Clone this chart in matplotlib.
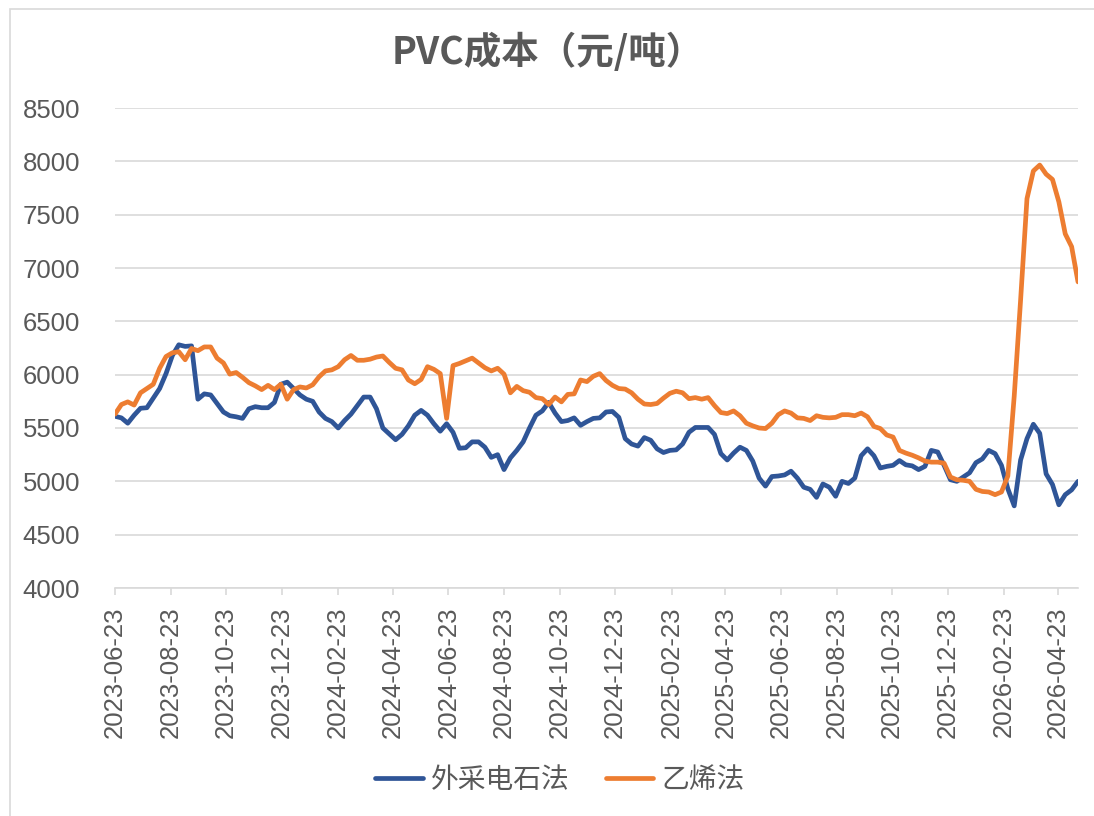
import matplotlib
matplotlib.use("Agg")
import matplotlib.pyplot as plt
import matplotlib.dates as mdates
from matplotlib.patches import Rectangle
import pandas as pd

plt.rcParams['font.family'] = ['Liberation Sans', 'Noto Sans CJK SC', 'DejaVu Sans']

# ---------------- data ----------------
title = "PVC成本（元/吨）"
series_names = ["外采电石法", "乙烯法"]
start_date = "2023-06-23"
n_weeks = 152
dates = pd.date_range(start=start_date, periods=n_weeks, freq="7D")

carbide = [
    5610, 5595, 5545, 5620, 5685, 5690, 5780, 5870, 6010, 6180,
    6280, 6265, 6270, 5770, 5820, 5810, 5730, 5650, 5615, 5605,
    5590, 5680, 5700, 5690, 5690, 5740, 5910, 5930, 5870, 5810,
    5770, 5750, 5650, 5590, 5560, 5500, 5570, 5630, 5710, 5790,
    5790, 5680, 5500, 5445, 5390, 5440, 5520, 5620, 5665, 5620,
    5540, 5470, 5540, 5460, 5310, 5315, 5370, 5370, 5320, 5225,
    5250, 5110, 5220, 5290, 5370, 5500, 5620, 5660, 5740, 5640,
    5560, 5570, 5595, 5525, 5560, 5590, 5595, 5650, 5655, 5600,
    5400, 5350, 5330, 5410, 5385, 5305, 5270, 5290, 5295, 5350,
    5460, 5505, 5505, 5505, 5440, 5260, 5200, 5265, 5320, 5290,
    5190, 5030, 4955, 5045, 5050, 5060, 5095, 5030, 4945, 4925,
    4850, 4975, 4945, 4860, 5000, 4980, 5030, 5240, 5305, 5240,
    5125, 5140, 5150, 5195, 5155, 5145, 5110, 5140, 5290, 5275,
    5150, 5015, 5000, 5040, 5080, 5175, 5210, 5290, 5260, 5150,
    4930, 4770, 5200, 5400, 5535, 5450, 5070, 4970, 4780, 4875,
    4920, 5000,
]

ethylene = [
    5630, 5720, 5745, 5715, 5830, 5870, 5910, 6060, 6170, 6205,
    6215, 6140, 6245, 6225, 6260, 6260, 6155, 6110, 6005, 6020,
    5975, 5925, 5895, 5860, 5900, 5860, 5910, 5770, 5860, 5885,
    5875, 5905, 5980, 6035, 6045, 6075, 6140, 6180, 6135, 6135,
    6145, 6165, 6175, 6115, 6060, 6045, 5950, 5915, 5955, 6075,
    6050, 6010, 5590, 6085, 6105, 6130, 6155, 6110, 6065, 6035,
    6060, 6005, 5830, 5890, 5850, 5835, 5785, 5775, 5720, 5790,
    5745, 5815, 5820, 5950, 5935, 5985, 6010, 5945, 5900, 5870,
    5865, 5830, 5770, 5725, 5720, 5730, 5780, 5825, 5845, 5830,
    5775, 5785, 5770, 5785, 5710, 5645, 5635, 5660, 5615, 5545,
    5520, 5500, 5495, 5545, 5625, 5660, 5640, 5595, 5590, 5570,
    5615, 5600, 5595, 5600, 5625, 5625, 5615, 5640, 5605, 5515,
    5495, 5435, 5415, 5290, 5265, 5245, 5220, 5190, 5180, 5180,
    5170, 5040, 5015, 5010, 5000, 4925, 4905, 4900, 4875, 4900,
    5050, 5800, 6700, 7650, 7910, 7965, 7880, 7830, 7620, 7320,
    7200, 6870,
]

tick_dates = [
    "2023-06-23", "2023-08-23", "2023-10-23", "2023-12-23",
    "2024-02-23", "2024-04-23", "2024-06-23", "2024-08-23",
    "2024-10-23", "2024-12-23", "2025-02-23", "2025-04-23",
    "2025-06-23", "2025-08-23", "2025-10-23", "2025-12-23",
    "2026-02-23", "2026-04-23",
]
y_ticks = [4000, 4500, 5000, 5500, 6000, 6500, 7000, 7500, 8000, 8500]

# ---------------- style ----------------
W, H = 1094, 816
fig = plt.figure(figsize=(W / 100, H / 100), dpi=100)
fig.patch.set_facecolor("white")

# outer chart border (light gray)
fig.patches.append(Rectangle((9.5 / W, -0.05), 1.2, 1.05 - 9 / H,
                             transform=fig.transFigure, fill=False,
                             edgecolor="#d9d9d9", linewidth=1.2))

ax = fig.add_axes([115 / W, 1 - 588 / H, (1078 - 115) / W, (588 - 108) / H])

text_color = "#595959"
grid_color = "#d9d9d9"

ax.plot(dates, carbide, color="#2F5597", lw=3.4, solid_joinstyle="round",
        solid_capstyle="round", label=series_names[0], zorder=3)
ax.plot(dates, ethylene, color="#ED7D31", lw=3.4, solid_joinstyle="round",
        solid_capstyle="round", label=series_names[1], zorder=3)

ax.set_ylim(4000, 8500)
ax.set_yticks(y_ticks)
ax.set_xlim(dates[0], dates[-1])
ax.set_xticks(pd.to_datetime(tick_dates))
ax.xaxis.set_major_formatter(mdates.DateFormatter("%Y-%m-%d"))

ax.grid(axis="y", color=grid_color, lw=1.2)
ax.set_axisbelow(True)
for s in ["left", "right", "top"]:
    ax.spines[s].set_visible(False)
ax.spines["bottom"].set_color(grid_color)
ax.spines["bottom"].set_linewidth(1.2)

ax.tick_params(axis="y", length=0, pad=25, labelsize=18.5, labelcolor=text_color)
ax.tick_params(axis="x", length=5, width=1.2, color=grid_color, pad=8,
               labelsize=18.5, labelcolor=text_color, labelrotation=90)

fig.text(548 / W, 1 - 52 / H, title, ha="center", va="center",
         fontsize=27, fontweight="bold", color=text_color,
         family=["Noto Sans CJK SC", "DejaVu Sans"])

leg = fig.legend(loc="center", bbox_to_anchor=(560 / W, 1 - 780 / H),
                 ncol=2, frameon=False, handlelength=1.7, handletextpad=0.3,
                 columnspacing=1.3,
                 prop={"family": ["Noto Sans CJK SC", "DejaVu Sans"], "size": 20})
for t in leg.get_texts():
    t.set_color(text_color)

fig.savefig("out.png", dpi=100, facecolor="white")
